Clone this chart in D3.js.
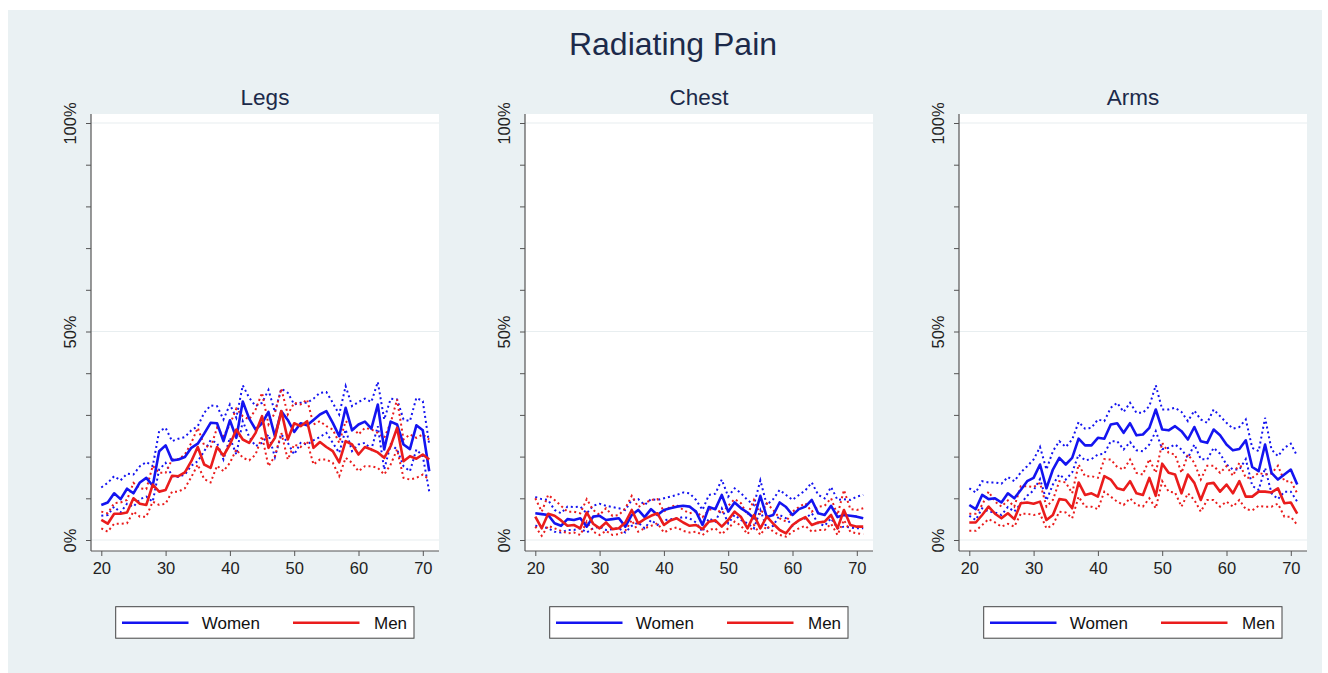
<!DOCTYPE html>
<html>
<head>
<meta charset="utf-8">
<script src="https://cdn.jsdelivr.net/npm/d3@7"></script>
<style>
  html, body { margin: 0; padding: 0; background: #ffffff; }
  svg { display: block; }
  text { font-family: "Liberation Sans", Arial, sans-serif; }
</style>
</head>
<body>
<svg id="chart" width="1328" height="673"></svg>
<script>
// ---------- DATA ----------
const ages = d3.range(20, 72); // 20..71
const panelTitles = ["Legs", "Chest", "Arms"];
const seriesNames = ["Women", "Men"];
const yTickValues = [0, 10, 20, 30, 40, 50, 60, 70, 80, 90, 100];
const yLabelValues = [0, 50, 100];
const xTickValues = [20, 30, 40, 50, 60, 70];

// Legs
const legsWomen   = [8.4,9.0,11.2,9.8,12.3,11.2,13.8,14.9,13.0,21.3,22.7,19.1,19.3,19.9,22.1,23.1,25.5,28.1,28.0,23.7,28.7,24.5,33.2,29.1,26.5,28.0,30.7,24.9,30.9,28.8,25.9,28.0,27.5,28.8,30.1,30.9,28.1,24.9,31.7,26.3,27.7,28.4,26.7,32.5,21.7,28.4,27.7,22.9,21.8,27.5,26.3,16.5];
const legsWomenHi = [12.6,13.7,15.3,14.3,15.9,15.7,17.7,18.7,17.7,26.1,26.9,23.7,24.3,24.7,26.3,27.3,30.5,32.3,32.1,28.9,32.5,29.3,37.1,34.1,32.1,32.9,36.0,30.7,36.3,35.3,32.5,32.9,32.9,33.9,35.3,35.5,32.9,30.1,36.9,32.1,33.1,33.9,33.1,37.9,28.9,33.9,33.7,28.9,28.5,34.1,33.3,22.9];
const legsWomenLo = [5.8,6.0,8.0,6.6,8.7,8.0,9.8,10.4,9.2,16.9,18.5,15.3,15.1,15.7,17.8,18.9,21.3,23.9,23.3,19.3,24.5,20.5,28.5,24.7,22.5,23.3,25.3,19.9,25.3,23.3,20.5,23.3,22.9,23.9,24.7,25.7,23.3,20.9,26.5,21.3,22.9,23.3,21.7,27.3,16.9,22.9,21.7,17.7,16.5,21.7,20.1,11.6];
const legsMen     = [4.8,3.9,6.3,6.3,6.6,10.0,8.7,8.4,13.3,11.6,12.0,15.4,15.3,16.2,18.9,22.3,18.1,17.3,22.3,20.2,22.9,26.5,24.1,23.3,25.7,29.7,22.1,24.5,30.9,24.1,28.0,27.3,28.5,22.1,23.5,22.3,21.3,18.6,23.7,22.9,20.5,22.3,21.7,21.0,19.7,22.5,26.9,18.9,20.1,19.5,20.5,19.3];
const legsMenHi   = [6.8,6.4,8.8,9.0,9.6,13.7,12.4,12.2,17.8,16.1,16.1,19.3,19.4,20.5,23.3,26.9,22.7,22.1,26.9,24.9,27.7,31.5,29.7,28.9,31.3,35.3,27.7,30.5,36.3,30.1,32.9,32.5,33.7,27.7,28.5,27.3,26.5,23.3,28.5,27.3,25.3,26.9,26.5,25.7,24.5,28.1,33.7,24.1,25.3,24.5,25.3,24.1];
const legsMenLo   = [2.8,2.0,3.9,3.9,4.0,6.8,5.6,5.6,9.2,8.4,8.7,11.6,11.6,12.4,15.1,18.1,14.6,13.8,17.8,16.5,18.5,21.7,19.7,19.1,20.5,24.9,17.7,20.1,25.7,19.3,22.9,22.3,23.7,18.1,19.3,19.3,18.5,15.3,19.7,18.5,16.5,17.7,17.7,17.3,15.7,18.1,21.7,14.9,14.5,14.9,15.7,14.5];

// Chest
const chestWomen   = [6.4,6.2,6.0,4.0,3.4,5.0,4.8,5.2,3.2,5.6,5.8,4.8,5.0,5.2,3.2,6.0,7.2,5.5,7.4,6.0,7.2,7.6,8.0,8.2,8.0,6.8,3.6,7.9,7.4,10.8,6.8,9.0,7.6,6.6,5.2,10.6,5.5,6.0,9.0,7.9,6.0,7.4,8.0,9.6,6.4,6.0,8.2,5.5,6.0,5.8,5.6,5.2];
const chestWomenHi = [10.3,9.8,9.6,7.2,6.4,8.0,7.9,8.0,6.4,8.2,8.7,8.2,7.9,7.6,7.2,9.6,9.8,8.4,9.8,9.6,10.0,10.4,10.8,11.4,11.2,9.6,7.2,10.8,11.1,14.5,10.4,12.4,11.2,9.6,8.4,14.3,8.4,9.8,12.0,10.8,9.6,10.8,11.9,13.8,10.8,10.0,12.7,9.6,9.8,9.6,10.4,10.8];
const chestWomenLo = [3.4,3.2,2.8,2.0,1.8,2.4,2.4,2.8,1.8,2.8,3.2,2.4,2.6,2.8,1.8,3.4,4.2,2.8,4.8,3.6,4.7,5.0,5.2,5.5,5.2,4.2,2.0,5.2,4.4,7.6,4.0,6.0,4.8,4.0,2.8,7.2,2.8,3.4,6.0,5.2,3.4,4.8,5.2,6.4,4.0,3.4,5.2,2.8,3.2,3.0,2.8,2.8];
const chestMen     = [5.6,2.8,6.3,5.8,4.7,3.4,3.6,2.8,6.6,3.9,2.8,4.2,2.6,2.8,4.2,7.2,4.0,5.0,5.8,6.4,3.6,4.7,5.2,4.2,3.4,3.6,2.6,4.4,4.7,3.2,4.8,6.8,5.5,2.8,6.0,2.8,5.6,3.9,2.4,1.6,3.6,4.7,5.5,3.6,4.2,4.4,6.0,2.8,7.2,3.6,3.2,3.2];
const chestMenHi   = [10.0,6.8,10.8,9.6,8.2,6.8,6.8,6.4,9.8,7.2,6.0,7.6,5.8,6.0,7.6,10.6,7.9,8.8,9.6,9.8,6.8,8.0,8.4,7.2,6.4,6.8,5.5,7.2,7.6,6.4,8.2,9.8,8.8,6.0,9.6,6.0,8.8,7.2,5.2,4.4,6.8,7.9,8.8,6.8,8.0,8.2,10.0,6.0,12.0,7.4,7.2,7.6];
const chestMenLo   = [3.2,1.0,3.4,2.8,2.2,1.6,1.8,1.2,4.4,2.0,1.2,2.2,1.2,1.4,2.2,4.8,2.0,2.8,3.4,4.0,1.8,2.6,3.0,2.2,1.8,2.0,1.2,2.4,2.8,1.4,2.8,4.4,3.4,1.4,3.6,1.2,3.4,2.0,1.2,0.8,2.0,2.8,3.4,2.0,2.4,2.4,3.9,1.2,4.8,2.0,1.6,1.4];

// Arms
const armsWomen   = [8.4,7.4,10.8,9.8,10.0,9.0,11.2,10.0,12.0,14.1,14.9,18.1,12.4,16.9,19.7,18.1,19.7,24.3,22.7,22.7,24.5,24.3,27.7,28.0,25.7,28.0,25.1,25.3,26.9,31.3,26.5,26.3,27.3,26.1,24.1,27.1,23.7,23.3,26.5,25.1,22.9,21.5,21.8,23.9,17.5,16.5,22.9,16.1,14.5,15.7,16.9,13.3];
const armsWomenHi = [12.4,11.4,14.1,13.8,13.8,13.5,15.1,14.1,16.2,17.7,19.3,22.3,16.9,21.3,23.7,22.3,24.1,28.3,26.7,26.9,28.9,28.5,31.7,32.9,30.7,32.9,30.5,30.5,32.1,37.1,31.3,31.3,31.7,30.7,28.5,31.0,28.9,28.1,31.3,29.7,28.1,26.7,27.1,28.9,22.1,21.3,29.3,21.7,20.1,22.1,23.1,20.1];
const armsWomenLo = [5.8,4.8,7.6,6.8,6.6,6.0,7.9,6.8,8.7,10.6,11.9,14.6,9.5,13.3,15.7,14.5,16.2,20.5,19.1,19.4,20.5,20.7,23.7,23.7,21.7,23.5,21.5,21.3,22.9,26.1,21.8,22.1,22.9,21.7,19.7,22.9,19.4,19.3,22.1,20.7,18.1,16.9,16.9,19.4,13.0,12.0,17.3,11.2,9.8,11.6,11.6,9.2];
const armsMen     = [4.2,4.2,6.0,8.0,6.3,5.2,6.4,5.0,8.8,9.0,8.7,9.2,4.8,6.0,9.8,9.6,7.6,13.8,10.8,11.2,10.4,15.3,14.5,12.4,12.0,14.1,11.2,10.8,14.9,10.6,18.3,16.1,15.7,11.2,15.7,13.7,9.6,13.5,13.7,11.6,13.3,11.2,14.1,10.4,10.4,11.6,11.6,11.4,12.4,8.8,9.0,6.3];
const armsMenHi   = [6.3,6.3,8.4,11.6,9.2,8.0,9.5,8.0,12.9,12.9,12.7,13.7,8.0,9.6,14.1,13.8,11.2,18.1,15.3,15.3,14.9,19.4,19.3,17.5,16.9,19.3,16.1,15.7,19.4,16.1,23.3,20.9,20.5,16.1,20.5,18.5,14.5,17.8,17.8,16.1,17.7,15.4,18.5,14.9,14.9,16.1,15.7,15.9,17.8,14.1,14.1,11.2];
const armsMenLo   = [2.2,2.2,3.6,5.0,4.2,3.2,3.9,3.2,6.3,6.3,6.0,6.3,2.8,3.6,6.8,6.6,5.2,10.4,8.0,8.0,7.4,11.6,10.4,9.2,8.4,10.0,8.4,8.0,10.0,7.6,14.1,11.6,11.4,8.0,11.2,9.6,6.8,9.6,9.6,8.0,9.2,8.0,9.6,7.4,7.1,8.2,8.0,8.0,8.7,5.6,5.6,3.6];

const panelData = [
  { women: legsWomen,  womenLo: legsWomenLo,  womenHi: legsWomenHi,  men: legsMen,  menLo: legsMenLo,  menHi: legsMenHi },
  { women: chestWomen, womenLo: chestWomenLo, womenHi: chestWomenHi, men: chestMen, menLo: chestMenLo, menHi: chestMenHi },
  { women: armsWomen,  womenLo: armsWomenLo,  womenHi: armsWomenHi,  men: armsMen,  menLo: armsMenLo,  menHi: armsMenHi }
];

// ---------- STYLE / LAYOUT ----------
const BLUE = "#1414f0";
const RED = "#ea1c1c";
const TITLE_COLOR = "#1c2a4a";
const BG = "#eaf1f3";

const svg = d3.select("#chart");
svg.append("rect").attr("x", 8).attr("y", 10).attr("width", 1314).attr("height", 663).attr("fill", BG);

svg.append("text")
  .attr("x", 673).attr("y", 55)
  .attr("text-anchor", "middle")
  .attr("font-size", 32)
  .attr("fill", TITLE_COLOR)
  .text("Radiating Pain");

const panelLeft0 = 91, panelStep = 434, plotW = 348;
const plotTop = 114, plotBottom = 551;

panelData.forEach((pd, i) => {
  const left = panelLeft0 + i * panelStep;
  const g = svg.append("g");

  const x = d3.scaleLinear().domain([20, 70]).range([left + 10.3, left + 10.3 + 321.5]);
  const y = d3.scaleLinear().domain([0, 100]).range([540, 123]);

  // plot region
  g.append("rect").attr("x", left).attr("y", plotTop).attr("width", plotW).attr("height", plotBottom - plotTop).attr("fill", "#ffffff");

  // gridlines
  g.selectAll(".grid").data(yLabelValues).join("line")
    .attr("x1", left).attr("x2", left + plotW)
    .attr("y1", d => y(d)).attr("y2", d => y(d))
    .attr("stroke", "#e8eef0").attr("stroke-width", 1.2);

  // title
  g.append("text")
    .attr("x", left + plotW / 2).attr("y", 105)
    .attr("text-anchor", "middle")
    .attr("font-size", 22.5)
    .attr("fill", TITLE_COLOR)
    .text(panelTitles[i]);

  // y axis
  const yAxis = d3.axisLeft(y).tickValues(yTickValues).tickSize(5).tickFormat(d => yLabelValues.includes(d) ? d + "%" : "");
  const ya = g.append("g").attr("transform", `translate(${left},0)`).call(yAxis);
  ya.select(".domain").remove();
  ya.selectAll(".tick line").attr("stroke", "#555").attr("stroke-width", 1);
  ya.selectAll(".tick text")
    .attr("font-size", 16.5).attr("fill", "#222")
    .attr("x", 0).attr("dy", 0)
    .attr("text-anchor", "middle")
    .attr("transform", "translate(-15,0) rotate(-90)");
  g.append("line").attr("x1", left).attr("x2", left).attr("y1", plotTop).attr("y2", plotBottom).attr("stroke", "#555").attr("stroke-width", 1.2);

  // x axis
  const xAxis = d3.axisBottom(x).tickValues(xTickValues).tickSize(5).tickFormat(d3.format("d"));
  const xa = g.append("g").attr("transform", `translate(0,${plotBottom})`).call(xAxis);
  xa.select(".domain").remove();
  xa.selectAll(".tick line").attr("stroke", "#555");
  xa.selectAll(".tick text").attr("font-size", 16.5).attr("fill", "#222").attr("y", 11).attr("dy", "0.71em");
  g.append("line").attr("x1", left).attr("x2", left + plotW).attr("y1", plotBottom).attr("y2", plotBottom).attr("stroke", "#555").attr("stroke-width", 1.2);

  // lines
  const line = d3.line().x((d, k) => x(ages[k])).y(d => y(d));
  const dotted = [[pd.womenHi, BLUE], [pd.womenLo, BLUE], [pd.menHi, RED], [pd.menLo, RED]];
  dotted.forEach(([arr, col]) => {
    g.append("path").datum(arr).attr("d", line)
      .attr("fill", "none").attr("stroke", col).attr("stroke-width", 2)
      .attr("stroke-dasharray", "2,3").attr("stroke-linecap", "butt");
  });
  [[pd.women, BLUE], [pd.men, RED]].forEach(([arr, col]) => {
    g.append("path").datum(arr).attr("d", line)
      .attr("fill", "none").attr("stroke", col).attr("stroke-width", 2.6)
      .attr("stroke-linejoin", "round");
  });

  // legend
  const lg = g.append("g").attr("transform", `translate(${left + 24.7},606.7)`);
  lg.append("rect").attr("x", 0).attr("y", 0).attr("width", 298.3).attr("height", 31.5)
    .attr("fill", "#ffffff").attr("stroke", "#444").attr("stroke-width", 1);
  const items = [[BLUE, 6.3, 86], [RED, 177.3, 258.3]];
  seriesNames.forEach((name, k) => {
    const [col, lx, tx] = items[k];
    lg.append("line").attr("x1", lx).attr("x2", lx + 66.5).attr("y1", 16).attr("y2", 16)
      .attr("stroke", col).attr("stroke-width", 2.6);
    lg.append("text").attr("x", tx).attr("y", 22).attr("font-size", 17).attr("fill", "#111").text(name);
  });
});
</script>
</body>
</html>
